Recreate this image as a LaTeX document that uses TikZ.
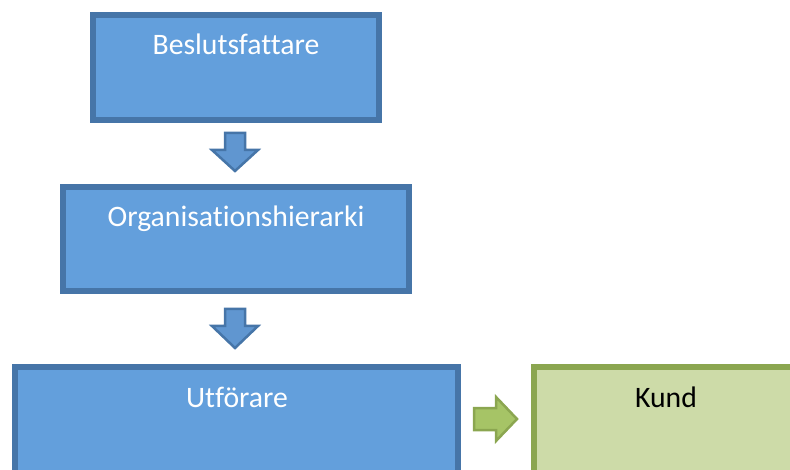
\documentclass[tikz,border=0pt]{standalone}
\usepackage{fontspec}
\setmainfont[Ligatures={NoCommon}]{Carlito}
\definecolor{boxblue}{RGB}{99,159,220}
\definecolor{edgeblue}{RGB}{70,117,168}
\definecolor{arrowblue}{RGB}{96,150,208}
\definecolor{boxgreen}{RGB}{205,219,168}
\definecolor{edgegreen}{RGB}{139,166,80}
\definecolor{arrowgreen}{RGB}{166,196,102}
\tikzset{
  x=1pt, y=-1pt,
  bluebox/.style={draw=edgeblue, fill=boxblue, line width=5.5pt},
  greenbox/.style={draw=edgegreen, fill=boxgreen, line width=5.5pt},
  bluearrow/.style={draw=edgeblue, fill=arrowblue, line width=2.5pt, line join=miter},
  greenarrow/.style={draw=edgegreen, fill=arrowgreen, line width=2.5pt, line join=miter},
  caption/.style={font=\fontsize{29.7}{34}\selectfont, anchor=base, inner sep=0pt},
}
\begin{document}
\begin{tikzpicture}
\useasboundingbox (0,0) rectangle (790,470);
\clip (0,0) rectangle (790,470);
% boxes
\draw[bluebox] (93,15) rectangle (379,120);
\draw[bluebox] (63,187) rectangle (409,291);
\draw[bluebox] (15,367) rectangle (458,520);
\draw[greenbox] (534,367) rectangle (820,520);
% captions
\node[caption, text=white] (beslut) at (236,55) {Beslutsfattare};
\node[caption, text=white] (org) at (236,227) {Organisationshierarki};
\node[caption, text=white] (utf) at (237,407) {Utförare};
\node[caption, text=black] (kund) at (666,407) {Kund};
% block arrows
\draw[bluearrow] (225,133) -- (245,133) -- (245,150) -- (258,150) -- (235,171)
  -- (212,150) -- (225,150) -- cycle;
\draw[bluearrow] (225,309) -- (245,309) -- (245,326) -- (258,326) -- (235,348)
  -- (212,326) -- (225,326) -- cycle;
\draw[greenarrow] (474,408) -- (496,408) -- (496,397) -- (517,419) -- (496,441)
  -- (496,430) -- (474,430) -- cycle;
\end{tikzpicture}
\end{document}
